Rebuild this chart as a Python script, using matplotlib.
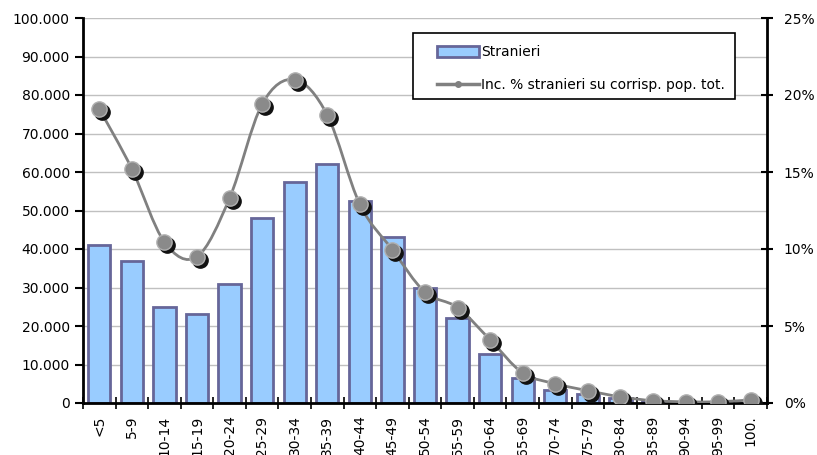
import numpy as np
import matplotlib.pyplot as plt
from matplotlib.path import Path
from matplotlib.patches import PathPatch, Rectangle
from matplotlib.ticker import FuncFormatter, MultipleLocator
import matplotlib.transforms as mtransforms

plt.rcParams["font.family"] = "DejaVu Sans"

classi = ["<5", "5-9", "10-14", "15-19", "20-24", "25-29", "30-34", "35-39",
          "40-44", "45-49", "50-54", "55-59", "60-64", "65-69", "70-74",
          "75-79", "80-84", "85-89", "90-94", "95-99", "100."]
stranieri = [41000, 37000, 25000, 23000, 31000, 48000, 57500, 62000,
             52500, 43000, 30000, 22200, 12800, 6600, 3500,
             2300, 1200, 400, 150, 60, 30]
incidenza = [19.1, 15.2, 10.45, 9.5, 13.3, 19.4, 21.0, 18.7,
             12.9, 9.95, 7.2, 6.2, 4.1, 1.95, 1.25,
             0.8, 0.4, 0.15, 0.08, 0.08, 0.2]

W, H = 817, 455
fig = plt.figure(figsize=(W / 100, H / 100), dpi=100)
ax = fig.add_axes([83 / W, 52 / H, 684 / W, 385 / H])
ax2 = ax.twinx()

x = np.arange(len(classi))
bars = ax.bar(x, stranieri, width=0.68, color="#99CCFF", edgecolor="#666699",
              linewidth=2, label="Stranieri", zorder=2)

ax.set_xlim(-0.5, len(classi) - 0.5)
ax.set_ylim(0, 100000)
ax.yaxis.set_major_locator(MultipleLocator(10000))
ax.yaxis.set_major_formatter(FuncFormatter(lambda v, p: "0" if v == 0 else f"{int(v):,}".replace(",", ".")))
ax.grid(axis="y", color="#c0c0c0", linewidth=1, zorder=0)
ax.set_axisbelow(True)

ax.set_xticks(x)
ax.set_xticklabels(classi, rotation=90, fontsize=10)
ax.set_xticks(np.arange(-0.5, len(classi)), minor=True)
ax.tick_params(axis="x", which="major", length=0, pad=9)
ax.tick_params(axis="x", which="minor", direction="inout", length=8, width=1.2)
ax.tick_params(axis="y", direction="out", length=6, width=1.5, labelsize=10)

for side in ["top", "right"]:
    ax.spines[side].set_visible(False)
for side in ["top", "left", "bottom"]:
    ax2.spines[side].set_visible(False)
ax.spines["left"].set_linewidth(2)
ax.spines["bottom"].set_linewidth(2)
ax2.spines["right"].set_linewidth(2)

ax2.set_ylim(0, 25)
ax2.yaxis.set_major_locator(MultipleLocator(5))
ax2.yaxis.set_major_formatter(FuncFormatter(lambda v, p: f"{int(v)}%"))
ax2.tick_params(axis="y", direction="inout", length=8, width=1.5, labelsize=10, pad=8)

# smoothed line through the percentages (Catmull-Rom as cubic Bezier)
pts = np.column_stack([x, incidenza])
verts = [pts[0]]
codes = [Path.MOVETO]
for i in range(len(pts) - 1):
    p0 = pts[max(i - 1, 0)]
    p1 = pts[i]
    p2 = pts[i + 1]
    p3 = pts[min(i + 2, len(pts) - 1)]
    c1 = p1 + (p2 - p0) / 6
    c2 = p2 - (p3 - p1) / 6
    verts += [c1, c2, p2]
    codes += [Path.CURVE4] * 3
curve = PathPatch(Path(verts, codes), facecolor="none", edgecolor="#808080",
                  linewidth=2, zorder=3)
ax2.add_patch(curve)

# markers with a dark drop shadow
shadow = mtransforms.offset_copy(ax2.transData, fig=fig, x=3, y=-3, units="dots")
ax2.plot(x, incidenza, linestyle="none", marker="o", markersize=11,
         markerfacecolor="#111111", markeredgecolor="#111111", transform=shadow, zorder=4)
ax2.plot(x, incidenza, linestyle="none", marker="o", markersize=11,
         markerfacecolor="#8a8a8a", markeredgecolor="#b0b0b0", markeredgewidth=1, zorder=5)

# legend: white box with black border, entries placed inside
box = Rectangle((413 / W, 1 - 99 / H), 322 / W, 66 / H, transform=fig.transFigure,
                facecolor="white", edgecolor="black", linewidth=1.2, zorder=5)
fig.patches.append(box)

leg_line = plt.Line2D([], [], color="#808080", linewidth=2.5, marker="o",
                      markersize=4, markerfacecolor="#808080")
leg = fig.legend([bars, leg_line], ["Stranieri", "Inc. % stranieri su corrisp. pop. tot."],
                 loc="upper left", bbox_to_anchor=(437 / W, 1 - 45 / H),
                 fontsize=10, frameon=False, handlelength=3.0, handleheight=0.85,
                 labelspacing=1.35, borderpad=0, handletextpad=0.15, borderaxespad=0)
leg.set_zorder(6)

fig.savefig("out.png", dpi=100)
